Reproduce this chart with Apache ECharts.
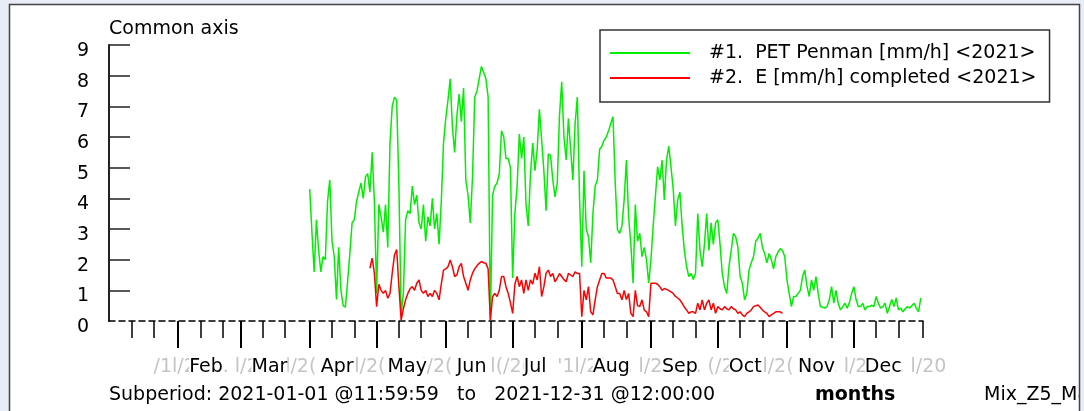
<!DOCTYPE html>
<html>
<head>
<meta charset="utf-8">
<script src="https://cdn.jsdelivr.net/npm/echarts@6/dist/echarts.min.js"></script>
<style>
html,body{margin:0;padding:0;background:#e9edf8;}
#c{width:1084px;height:411px;}
</style>
</head>
<body>
<div id="c"></div>
<script>
// ---- data (day index of 2021, 0 = Jan 1) ----
const petName = '#1.  PET Penman [mm/h] <2021>';
const petStartDay = 90;
const petValues = [
  4.3, 2.9, 1.6, 3.3, 2.3, 1.6, 2.1, 2.0, 3.9, 4.6,
  2.6, 2.1, 0.7, 2.4, 1.0, 0.5, 0.45, 1.3, 2.2, 3.2,
  3.3, 3.9, 4.2, 4.5, 4.0, 4.7, 4.8, 4.2, 5.5, 3.9,
  0.9, 3.8, 3.4, 2.9, 3.8, 2.4, 5.8, 7.0, 7.3, 7.2,
  4.4, 0.2, 0.9, 3.3, 3.6, 3.5, 4.4, 3.8, 4.1, 3.2,
  3.0, 3.8, 2.6, 3.4, 3.1, 4.0, 3.0, 3.5, 2.5, 3.9,
  5.8, 6.6, 7.2, 7.9, 6.3, 5.5, 6.7, 7.4, 6.5, 7.6,
  4.6, 4.1, 3.2, 4.7, 7.3, 7.5, 7.9, 8.3, 8.1, 7.9,
  7.3, 0.05, 4.1, 4.4, 4.5, 4.8, 6.2, 6.0, 5.3, 5.3,
  5.0, 1.4, 3.5, 4.4, 6.1, 5.3, 6.0, 3.8, 3.1, 4.8,
  5.8, 4.9, 5.6, 6.9, 5.9, 4.9, 3.6, 5.45, 5.4, 4.6,
  4.05, 4.5, 6.7, 7.8, 6.0, 5.25, 6.6, 5.6, 4.6, 6.44,
  7.3, 4.0, 1.77, 4.9, 3.0, 2.75, 1.9, 3.5, 4.4, 4.6,
  5.6, 5.7, 5.9, 6.0, 6.2, 6.44, 6.66, 4.5, 2.97, 2.86,
  3.1, 3.95, 5.25, 3.4, 2.5, 1.23, 3.8, 2.6, 2.86, 2.1,
  2.4, 2.0, 1.23, 2.0, 3.1, 4.05, 5.03, 4.6, 5.25, 3.95,
  5.25, 5.7, 5.03, 4.3, 3.1, 3.95, 4.2, 3.1, 2.3, 1.77,
  1.45, 1.55, 1.35, 1.55, 3.5, 2.3, 1.77, 2.5, 3.5, 2.3,
  3.2, 2.5, 3.2, 3.3, 2.5, 1.55, 1.12, 0.9, 1.77, 2.3,
  2.86, 2.75, 2.4, 1.45, 1.23, 0.69, 0.9, 1.66, 1.9, 2.1,
  2.6, 2.7, 2.86, 2.4, 2.2, 1.9, 2.2, 2.0, 1.7, 2.1,
  2.25, 2.36, 2.3, 2.1, 1.34, 0.9, 0.47, 0.8, 0.8, 0.9,
  1.0, 1.45, 1.66, 1.12, 0.8, 1.34, 1.0, 1.45, 0.9, 0.47,
  0.45, 0.42, 0.47, 0.7, 1.12, 0.58, 1.0, 0.58, 0.36, 0.47,
  0.58, 0.42, 0.6, 0.9, 1.12, 0.7, 0.47, 0.47, 0.58, 0.36,
  0.47, 0.47, 0.52, 0.47, 0.8, 0.58, 0.42, 0.47, 0.58, 0.25,
  0.47, 0.7, 0.47, 0.75, 0.36, 0.42, 0.3, 0.4, 0.47, 0.42,
  0.5, 0.58, 0.42, 0.3, 0.75
];

const eName = '#2.  E [mm/h] completed <2021>';
const eStartDay = 117;
const eValues = [
  1.72, 2.05, 1.56,
  0.47, 1.2, 1.0, 0.9, 1.0, 0.74, 0.9, 1.56, 2.15, 2.33,
  1.12, 0.03, 0.4, 0.69, 0.9, 1.05, 1.12, 1.0, 1.23, 1.34,
  1.0, 0.9, 1.0, 0.8, 0.9, 0.8, 1.0, 0.9, 0.69, 1.2,
  1.66, 1.7, 1.77, 1.99, 1.77, 1.45, 1.5, 1.77, 1.88, 1.45,
  1.23, 1.0, 1.34, 1.56, 1.7, 1.8, 1.88, 1.94, 1.9, 1.88,
  1.7, 0.03, 0.8, 0.9, 0.8, 1.0, 1.45, 1.45, 1.12, 0.9,
  0.6, 0.25, 1.2, 1.45, 1.12, 1.34, 0.9, 1.34, 1.0, 1.34,
  1.2, 1.56, 1.34, 1.77, 0.8, 1.12, 1.56, 1.66, 1.45, 1.55,
  1.28, 1.4, 1.55, 1.45, 1.35, 1.28, 1.55, 1.5, 1.45, 1.6,
  1.55, 1.55, 0.14, 1.0, 0.69, 1.12, 0.3, 0.2, 0.69, 1.12,
  1.34, 1.55, 1.55, 1.4, 1.4, 1.4, 1.34, 1.12, 0.9, 0.9,
  0.69, 1.0, 0.7, 0.9, 0.25, 0.14, 1.0, 0.5, 0.47, 0.69,
  0.36, 0.3, 0.14, 1.23, 1.23, 1.23, 1.2, 1.12, 1.0, 1.06,
  1.03, 1.0, 0.95, 0.9, 0.8, 0.75, 0.69, 0.58, 0.45, 0.36,
  0.25, 0.3, 0.3, 0.25, 0.58, 0.36, 0.69, 0.36, 0.58, 0.69,
  0.36, 0.58, 0.25, 0.47, 0.4, 0.36, 0.47, 0.4, 0.36, 0.47,
  0.4, 0.36, 0.25, 0.3, 0.2, 0.14, 0.25, 0.3, 0.36, 0.47,
  0.5, 0.52, 0.45, 0.36, 0.3, 0.25, 0.14, 0.2, 0.25, 0.3,
  0.3, 0.3, 0.25
];

// ---- axis ticks / labels ----
const yTickValues = [1, 2, 3, 4, 5, 6, 7, 8, 9];
const yLabelValues = [0, 1, 2, 3, 4, 5, 6, 7, 8, 9];
const monthTickDays = [31, 59, 90, 120, 151, 181, 212, 243, 273, 304, 334];
const monthNames = ['Feb', 'Mar', 'Apr', 'May', 'Jun', 'Jul', 'Aug', 'Sep', 'Oct', 'Nov', 'Dec'];
const dekadTickDays = [10, 20, 41, 51, 69, 79, 100, 110, 130, 140, 161, 171, 191, 201,
  222, 232, 253, 263, 283, 293, 314, 324, 344, 354, 365];
const greyLabelDays = [20, 51, 79, 110, 140, 171, 201, 232, 263, 293, 324, 354];
const greyLabels = ['/1l/2', '. l/2', 'l/2(', 'l/2(', 'l/2(', 'l(/2(', "'1l/2(", '. l/2', '. (/2', 'l/2(', '. l/2', '. l/20'];
const subperiodText = 'Subperiod: 2021-01-01 @11:59:59   to   2021-12-31 @12:00:00';
const unitText = 'months';
const fileText = 'Mix_Z5_Main';
const yAxisName = 'Common axis';

// ---- build ----
const FONT = 'DejaVu Sans';
const petData = petValues.map((v, i) => [petStartDay + i, v]);
const eData = eValues.map((v, i) => [eStartDay + i, v]);

const chart = echarts.init(document.getElementById('c'), null, { renderer: 'canvas' });
const option = {
  animation: false,
  backgroundColor: '#e9edf8',
  graphic: [
    { type: 'rect', z: -10, shape: { x: 9, y: 4, width: 1071, height: 420 },
      style: { fill: '#ffffff', stroke: null } },
    { type: 'rect', z: 100, shape: { x: 1080, y: 0, width: 10, height: 420 },
      style: { fill: '#e9edf8' } },
    { type: 'rect', z: 101, shape: { x: 9.5, y: 4.5, width: 1070, height: 420 },
      style: { fill: 'transparent', stroke: '#444', lineWidth: 1.5 } }
  ],
  title: [
    { text: subperiodText, left: 109, top: 384, padding: 0,
      textStyle: { fontFamily: FONT, fontSize: 19, fontWeight: 'normal', color: '#000', lineHeight: 22 } },
    { text: unitText, left: 815, top: 384, padding: 0,
      textStyle: { fontFamily: FONT, fontSize: 19, fontWeight: 'bold', color: '#000', lineHeight: 22 } },
    { text: fileText, left: 984, top: 384, padding: 0,
      textStyle: { fontFamily: FONT, fontSize: 19, fontWeight: 'normal', color: '#000', lineHeight: 22 } }
  ],
  legend: {
    orient: 'vertical', left: 600, top: 30,
    icon: 'rect', itemWidth: 80, itemHeight: 2, itemGap: 5,
    padding: [13, 13, 14, 10],
    borderColor: '#333', borderWidth: 1.5, backgroundColor: '#fff',
    selectedMode: false,
    textStyle: { fontFamily: FONT, fontSize: 19, color: '#000', lineHeight: 20, padding: [0, 0, 0, 14] },
    data: [petName, eName]
  },
  grid: { left: 109, right: 161, top: 45, bottom: 90, containLabel: false },
  xAxis: [
    {
      type: 'value', min: 0, max: 365, position: 'bottom',
      axisLine: { show: true, onZero: false, lineStyle: { color: '#000', width: 1.5, type: [6, 4] } },
      axisTick: { show: true, customValues: dekadTickDays, length: 17, lineStyle: { color: '#000', width: 1.5 } },
      axisLabel: {
        show: true, customValues: greyLabelDays, align: 'left', margin: 35, hideOverlap: false,
        fontFamily: FONT, fontSize: 19, color: '#c4c4c4', lineHeight: 22,
        formatter: function (val) {
          const i = greyLabelDays.indexOf(val);
          return i < 0 ? '' : greyLabels[i];
        }
      },
      splitLine: { show: false }
    },
    {
      type: 'value', min: 0, max: 365, position: 'bottom',
      axisLine: { show: false, onZero: false },
      axisTick: { show: true, customValues: monthTickDays, length: 27, lineStyle: { color: '#000', width: 2 } },
      axisLabel: {
        show: true, customValues: monthTickDays, align: 'left', margin: 35, hideOverlap: false,
        formatter: function (val) {
          const i = monthTickDays.indexOf(val);
          return i < 0 ? '' : '{s| }{m|' + monthNames[i] + '}';
        },
        rich: {
          s: { width: 11, fontSize: 19, lineHeight: 22 },
          m: { fontFamily: FONT, fontSize: 19, color: '#000', lineHeight: 22, backgroundColor: '#fff' }
        }
      },
      splitLine: { show: false }
    }
  ],
  yAxis: {
    type: 'value', min: 0, max: 9, interval: 1,
    name: yAxisName, nameLocation: 'end', nameGap: 16,
    nameTextStyle: { fontFamily: FONT, fontSize: 19, color: '#000', align: 'left', verticalAlign: 'middle' },
    axisLine: { show: true, lineStyle: { color: '#222', width: 2 } },
    axisTick: { show: true, inside: true, length: 21, customValues: yTickValues, lineStyle: { color: '#222', width: 1.5 } },
    axisLabel: { customValues: yLabelValues, showMinLabel: true, showMaxLabel: true, hideOverlap: false,
      fontFamily: FONT, fontSize: 19, color: '#000', margin: 20, verticalAlign: 'top', lineHeight: 12 },
    splitLine: { show: false }
  },
  series: [
    { name: petName, type: 'line', xAxisIndex: 0, data: petData, showSymbol: false, symbol: 'none',
      lineStyle: { color: '#00ee00', width: 1.5 }, itemStyle: { color: '#00ee00' }, z: 3 },
    { name: eName, type: 'line', xAxisIndex: 0, data: eData, showSymbol: false, symbol: 'none',
      lineStyle: { color: '#ff0000', width: 1.5 }, itemStyle: { color: '#ff0000' }, z: 4 }
  ]
};
chart.setOption(option);
</script>
</body>
</html>
